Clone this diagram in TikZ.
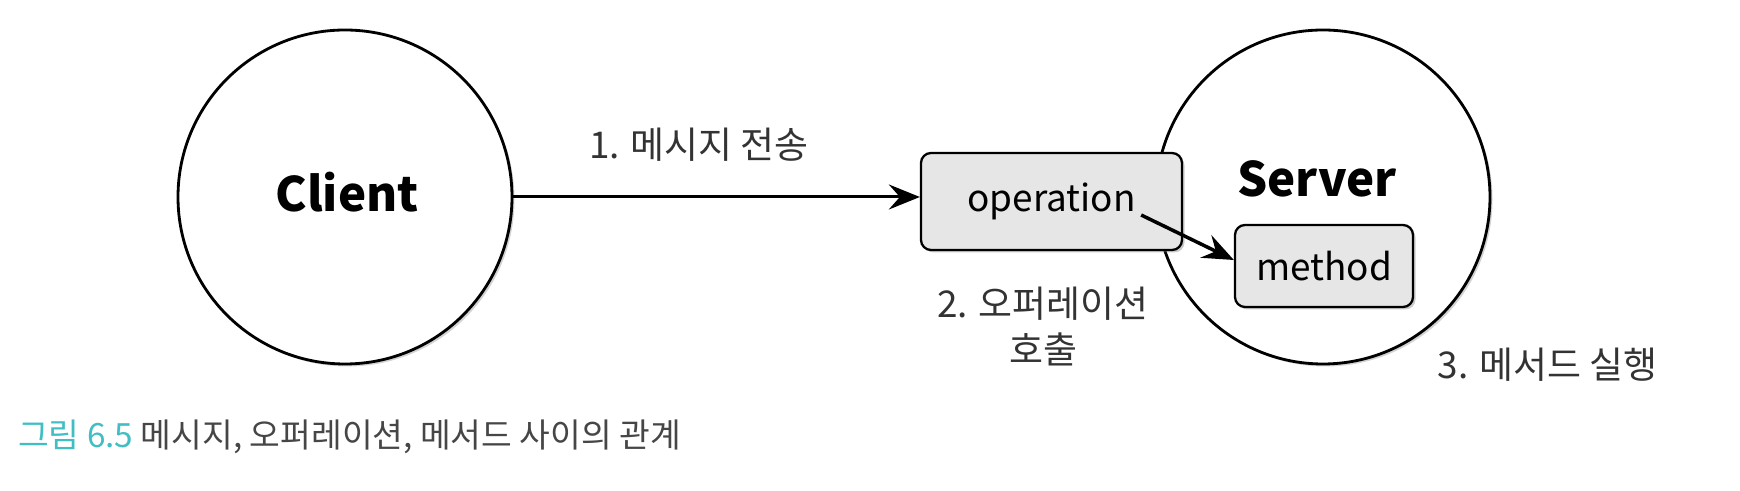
\documentclass[tikz,border=0pt]{standalone}
\usepackage{fontspec}
\setmainfont{Noto Sans CJK KR}
\usetikzlibrary{arrows.meta, shadows}
\definecolor{capteal}{RGB}{64,190,195}
\definecolor{boxgray}{RGB}{230,230,230}
\definecolor{captext}{RGB}{70,70,70}

\begin{document}
\begin{tikzpicture}[
    party/.style={circle, draw, line width=1.6pt, fill=white, minimum size=6.68cm,
        drop shadow={shadow xshift=0.05cm, shadow yshift=-0.05cm, opacity=0.35}},
    callbox/.style={rectangle, rounded corners=0.2cm, draw, line width=1.3pt, fill=boxgray,
        font=\fontsize{21}{25}\selectfont,
        drop shadow={shadow xshift=0.05cm, shadow yshift=-0.05cm, opacity=0.4}},
    title/.style={font=\fontsize{27}{32}\selectfont\bfseries},
    step label/.style={font=\fontsize{21}{26.7}\selectfont, text=black!80, align=center},
    flow/.style={line width=1.7pt, -{Stealth[length=0.62cm, width=0.5cm, inset=0.22cm]}}
]
    \useasboundingbox (0, 0) rectangle (34.8, 9.82);

    \node[party] (Client) at (6.90, 5.88) {};
    \node[party] (Server) at (26.46, 5.88) {};
    \node[title] (ClientName) at (6.94, 5.98) {Client};
    \node[title] (ServerName) at (26.34, 6.24) {Server};

    \node[callbox, minimum width=5.22cm, minimum height=1.94cm] (Operation) at (21.03, 5.79) {operation};
    \node[callbox, minimum width=3.56cm, minimum height=1.64cm] (Method) at (26.48, 4.50) {method};

    \node[step label] (Send) at (13.98, 6.92) {1. 메시지 전송};
    \node[step label] (Call) at (20.86, 3.29) {2. 오퍼레이션\\호출};
    \node[step label] (Run) at (30.95, 2.52) {3. 메서드 실행};

    \draw[flow] (Client.east) -- (Client.east -| Operation.west);
    \draw[flow, line width=2pt] ([xshift=-0.84cm, yshift=-0.27cm]Operation.east) -- ([yshift=0.12cm]Method.west);

    \node[anchor=west, font=\fontsize{19}{23}\selectfont, text=captext] (Caption) at (0.24, 1.08)
        {\textcolor{capteal}{그림 6.5} 메시지, 오퍼레이션, 메서드 사이의 관계};
\end{tikzpicture}
\end{document}
